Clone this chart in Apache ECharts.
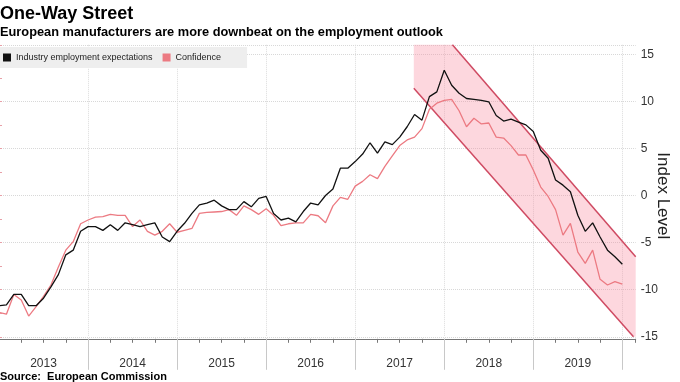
<!DOCTYPE html>
<html><head><meta charset="utf-8">
<script src="https://cdn.jsdelivr.net/npm/echarts@6/dist/echarts.min.js"></script>
<style>html,body{margin:0;padding:0;background:#fff}#c{width:680px;height:382px}</style>
</head><body><div id="c"></div>
<script>
const years = ['2013','2014','2015','2016','2017','2018','2019'];
const yTicks = [-15,-10,-5,0,5,10,15];
// monthly values, Jan 2013 (index 0) onward
const industry = [-11.7,-11.6,-10.5,-10.5,-11.7,-11.7,-10.9,-9.7,-8.4,-6.3,-5.8,-3.8,
 -3.3,-3.3,-3.7,-3.1,-3.7,-2.9,-3.1,-3.3,-3.1,-2.9,-4.4,-4.9,
 -3.8,-2.95,-1.9,-1.0,-0.8,-0.5,-1.1,-1.5,-1.5,-0.65,-1.2,-0.3,
 -0.1,-1.9,-2.6,-2.4,-2.8,-1.7,-0.8,-1.0,0.0,0.7,2.9,2.9,
 3.6,4.4,5.6,4.5,5.7,5.4,6.2,7.3,8.6,8.0,10.5,11.0,
 13.3,11.7,10.85,10.3,10.2,10.1,9.95,8.5,7.9,8.1,7.8,7.5,
 6.8,4.8,3.95,1.65,1.1,0.4,-2.1,-3.8,-2.9,-4.4,-5.8,-6.5,-7.3];
const confidence = [-12.4,-12.6,-10.5,-11.1,-12.8,-11.8,-10.7,-9.5,-7.6,-5.8,-4.9,-3.0,
 -2.6,-2.3,-2.25,-2.0,-2.1,-2.1,-3.3,-2.6,-3.8,-4.2,-3.8,-3.0,
 -3.9,-3.7,-3.5,-1.9,-1.8,-1.75,-1.7,-1.5,-2.1,-1.1,-1.5,-2.0,
 -1.4,-2.1,-3.2,-3.0,-2.9,-2.9,-2.0,-2.15,-2.9,-1.1,-0.2,-0.4,
 1.0,1.5,2.2,1.8,3.1,4.2,5.3,5.9,6.2,7.1,9.15,9.8,
 10.1,10.2,9.0,7.3,8.2,7.6,7.7,6.2,6.1,5.3,4.3,4.3,
 2.7,0.9,-0.1,-1.5,-4.2,-2.95,-6.0,-7.2,-5.8,-8.9,-9.5,-9.15,-9.4];
const channelUpper = [[61.1,16],[85.8,-6.5]];
const channelLower = [[55.9,11.4],[85.5,-15]];
const channelArea = [[55.9,16],[61.1,16],[85.8,-6.5],[85.8,-15],[85.5,-15],[55.9,11.4]];

const SANS = "'Liberation Sans',Arial,sans-serif";
const chart = echarts.init(document.getElementById('c'), null, {renderer:'canvas'});
const toXY = arr => arr.map((v,i)=>[i,v]);
chart.setOption({
  animation:false,
  graphic:[
    {type:'text', left:0, top:5, style:{text:'One-Way Street', font:'bold 18px '+SANS, fill:'#000'}},
    {type:'text', left:0, top:26, style:{text:'European manufacturers are more downbeat on the employment outlook', font:'bold 12.8px '+SANS, fill:'#000'}},
    {type:'text', left:0, top:371, style:{text:'Source:  European Commission', font:'bold 11px '+SANS, fill:'#000'}}
  ],
  legend:{
    left:0, top:47, padding:[6,26,6,3], backgroundColor:'#eeeeee',
    itemWidth:8, itemHeight:8, itemGap:10, icon:'rect',
    textStyle:{fontFamily:SANS, fontSize:9, color:'#222'},
    data:['Industry employment expectations','Confidence']
  },
  grid:[
    {left:-1, right:44.3, top:44.8, bottom:45.2, outerBoundsMode:'none', containLabel:false},
    {left:-1, width:623.3, top:44.8, bottom:45.2, outerBoundsMode:'none', containLabel:false}
  ],
  xAxis:[
    {type:'value', gridIndex:0, min:0, max:85.8, interval:3, offset:2,
     axisLine:{show:true, onZero:false, lineStyle:{color:'#777', width:1}},
     axisTick:{show:true, length:4, lineStyle:{color:'#777'}},
     axisLabel:{show:false}, splitLine:{show:false}},
    {type:'category', gridIndex:1, data:years, boundaryGap:true, offset:2,
     axisLine:{show:false, onZero:false},
     axisTick:{show:true, length:31, lineStyle:{color:'#c8c8c8'}},
     axisLabel:{show:true, margin:19, fontSize:12, fontFamily:SANS, color:'#333'},
     splitLine:{show:true, lineStyle:{color:'#dcdcdc', type:'dotted'}}}
  ],
  yAxis:[
    {type:'value', gridIndex:0, position:'right', min:-15, max:16, interval:5,
     name:'Index Level', nameLocation:'middle', nameRotate:-90, nameGap:18, nameMoveOverlap:false,
     nameTextStyle:{fontSize:17, fontFamily:SANS, color:'#222', padding:[0,0,0,10]},
     axisLine:{show:true, lineStyle:{color:'#e8a0a8', width:1.5}},
     axisTick:{show:true, length:3, lineStyle:{color:'#e8a0a8'}},
     minorTick:{show:true, splitNumber:2, length:3, lineStyle:{color:'#e8a0a8'}},
     axisLabel:{show:true, showMaxLabel:false, margin:5, fontSize:12, fontFamily:SANS, color:'#333',
       formatter:v=> yTicks.indexOf(v)>=0 ? String(v) : ''},
     splitLine:{show:true, lineStyle:{color:'#d8d8d8', type:'dotted'}}},
    {type:'value', gridIndex:1, min:-15, max:16, show:false}
  ],
  series:[
    {type:'custom', xAxisIndex:0, yAxisIndex:0, data:[[0,0]], silent:true, z:1,
     renderItem:(params, api)=>({type:'polygon',
        shape:{points: channelArea.map(p=>api.coord(p))},
        style:{fill:'rgba(250,140,160,0.35)'}})},
    {type:'line', name:'_upper', data:channelUpper, showSymbol:false, z:2,
     lineStyle:{color:'#cf4a62', width:1.5}, silent:true},
    {type:'line', name:'_lower', data:channelLower, showSymbol:false, z:2,
     lineStyle:{color:'#cf4a62', width:1.5}, silent:true},
    {type:'line', name:'Confidence', data:toXY(confidence), showSymbol:false, z:3,
     itemStyle:{color:'#ec7a82'}, lineStyle:{color:'#ec7a82', width:1.3}},
    {type:'line', name:'Industry employment expectations', data:toXY(industry), showSymbol:false, z:4,
     itemStyle:{color:'#111'}, lineStyle:{color:'#111', width:1.3}}
  ]
});
</script></body></html>
